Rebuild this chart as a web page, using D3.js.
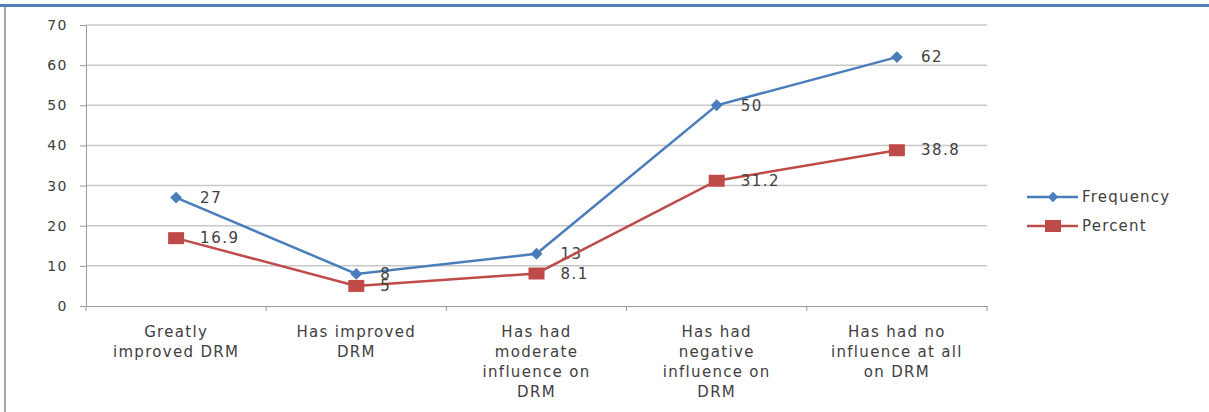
<!DOCTYPE html>
<html>
<head>
<meta charset="utf-8">
<script src="https://cdn.jsdelivr.net/npm/d3@7"></script>
<style>
  body { margin: 0; background: #fff; }
  svg text { font-family: "DejaVu Sans", sans-serif; fill: #404040; }
</style>
</head>
<body>
<div id="chart"></div>
<script>
// categories and series
const categories = [
  ['Greatly', 'improved DRM'],
  ['Has improved', 'DRM'],
  ['Has had', 'moderate', 'influence on', 'DRM'],
  ['Has had', 'negative', 'influence on', 'DRM'],
  ['Has had no', 'influence at all', 'on DRM']
];
const frequency = [27, 8, 13, 50, 62];
const percent = [16.9, 5, 8.1, 31.2, 38.8];
const yTicks = [0, 10, 20, 30, 40, 50, 60, 70];
const seriesNames = ['Frequency', 'Percent'];

const W = 1209, H = 412;
const plot = { left: 86, right: 987, top: 25, bottom: 306 };

const svg = d3.select('#chart').append('svg')
  .attr('width', W).attr('height', H);

// frame: blue top rule, grey left rule
svg.append('rect').attr('x', 0).attr('y', 4).attr('width', W).attr('height', 3).attr('fill', '#4f81bd');
svg.append('rect').attr('x', 4).attr('y', 7).attr('width', 2).attr('height', H - 7).attr('fill', '#a6a6a6');

const x = d3.scaleBand()
  .domain(d3.range(categories.length))
  .range([plot.left, plot.right]);

const y = d3.scaleLinear()
  .domain([0, 70])
  .range([plot.bottom, plot.top]);

// gridlines
svg.append('g')
  .selectAll('line')
  .data(yTicks.slice(1))
  .join('line')
  .attr('x1', plot.left).attr('x2', plot.right)
  .attr('y1', d => y(d)).attr('y2', d => y(d))
  .attr('stroke', '#c8c8c8').attr('stroke-width', 1.5);

// y axis
const yAxis = svg.append('g')
  .attr('transform', `translate(${plot.left},0)`)
  .call(d3.axisLeft(y).tickValues(yTicks).tickSize(6).tickPadding(12));
yAxis.select('.domain').attr('stroke', '#9a9a9a');
yAxis.selectAll('.tick line').attr('stroke', '#9a9a9a');
yAxis.selectAll('.tick text').style('font-size', '14px').attr('letter-spacing', '1.5px');

// x axis
const xAxis = svg.append('g')
  .attr('transform', `translate(0,${plot.bottom})`)
  .call(d3.axisBottom(x).tickValues([]).tickSizeOuter(0));
xAxis.select('.domain').attr('stroke', '#9a9a9a');
svg.append('g')
  .selectAll('line')
  .data(d3.range(categories.length + 1))
  .join('line')
  .attr('x1', i => plot.left + i * x.step()).attr('x2', i => plot.left + i * x.step())
  .attr('y1', plot.bottom).attr('y2', plot.bottom + 5)
  .attr('stroke', '#9a9a9a');

// category labels
svg.append('g')
  .selectAll('text')
  .data(categories)
  .join('text')
  .attr('text-anchor', 'middle')
  .attr('letter-spacing', '1.3px')
  .style('font-size', '15px')
  .attr('transform', (d, i) => `translate(${x(i) + x.bandwidth() / 2},${plot.bottom + 31})`)
  .selectAll('tspan')
  .data(d => d)
  .join('tspan')
  .attr('x', 0)
  .attr('y', (d, j) => j * 20)
  .text(d => d);

const cx = i => x(i) + x.bandwidth() / 2;
const line = d3.line().x((d, i) => cx(i)).y(d => y(d));
const colors = ['#4a7ebb', '#be4b48'];

[frequency, percent].forEach((vals, s) => {
  svg.append('path')
    .datum(vals)
    .attr('d', line)
    .attr('fill', 'none')
    .attr('stroke', colors[s])
    .attr('stroke-width', 2.5);

  const g = svg.append('g');
  if (s === 0) {
    g.selectAll('path')
      .data(vals)
      .join('path')
      .attr('d', d3.symbol(d3.symbolDiamond2, 90))
      .attr('transform', (d, i) => `translate(${cx(i)},${y(d)})`)
      .attr('fill', colors[s]);
  } else {
    g.selectAll('rect')
      .data(vals)
      .join('rect')
      .attr('x', (d, i) => cx(i) - 8).attr('y', d => y(d) - 6)
      .attr('width', 16).attr('height', 12)
      .attr('fill', colors[s]);
  }

  svg.append('g')
    .selectAll('text')
    .data(vals)
    .join('text')
    .attr('x', (d, i) => cx(i) + 24)
    .attr('y', d => y(d))
    .attr('dy', '0.35em')
    .attr('letter-spacing', '1.5px')
    .style('font-size', '15px')
    .text(d => d);
});

// legend
const legend = svg.append('g').attr('transform', 'translate(1027,197)');
seriesNames.forEach((name, s) => {
  const row = legend.append('g').attr('transform', `translate(0,${s * 29})`);
  row.append('line').attr('x1', 0).attr('x2', 51).attr('stroke', colors[s]).attr('stroke-width', 2.5);
  if (s === 0) {
    row.append('path').attr('d', d3.symbol(d3.symbolDiamond2, 70)).attr('transform', 'translate(26,0)').attr('fill', colors[s]);
  } else {
    row.append('rect').attr('x', 18).attr('y', -6).attr('width', 16).attr('height', 12).attr('fill', colors[s]);
  }
  row.append('text').attr('x', 55).attr('dy', '0.35em')
    .attr('letter-spacing', '1.2px')
    .style('font-size', '15px').text(name);
});
</script>
</body>
</html>
